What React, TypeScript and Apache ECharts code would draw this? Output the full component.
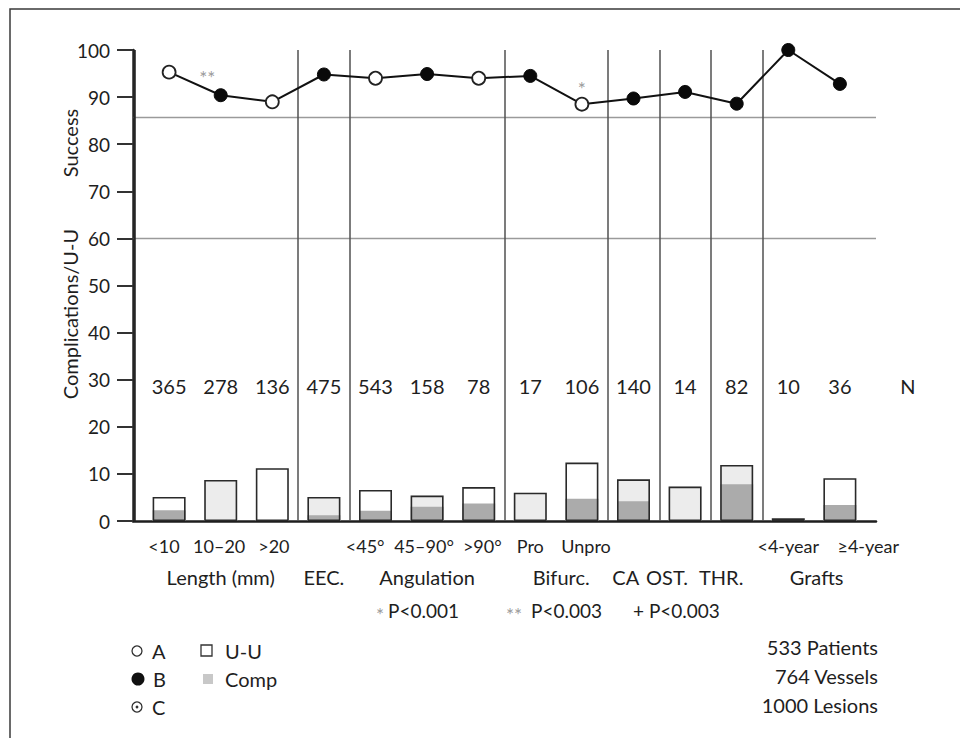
import React, { useEffect, useRef } from "react";
import * as echarts from "echarts";

// ---- data ----
const categories = ["<10", "10–20", ">20", "", "<45°", "45–90°", ">90°", "Pro", "Unpro", "", "", "", "<4-year", "≥4-year"];
const nCounts = [365, 278, 136, 475, 543, 158, 78, 17, 106, 140, 14, 82, 10, 36];
const successRates = [95.3, 90.4, 89.0, 94.8, 94.0, 94.9, 94.0, 94.5, 88.5, 89.7, 91.1, 88.6, 100, 92.8];
const lesionTypes = ["A", "B", "A", "B", "A", "B", "A", "B", "A", "B", "B", "B", "B", "B"];
const uuRates = [5.1, 8.7, 11.2, 5.1, 6.6, 5.4, 7.2, 6.0, 12.4, 8.85, 7.3, 11.9, 0.6, 9.1];
const compRates = [2.3, 0, 0, 1.2, 2.2, 3.0, 3.7, 0, 4.7, 4.2, 0, 7.8, 0, 3.4];
const groupLabels = ["Length (mm)", "EEC.", "Angulation", "Bifurc.", "CA", "OST.", "THR.", "Grafts"];
const groupCenters = [1, 3, 5, 7.6, 8.85, 9.65, 10.7, 12.55];
const groupSeparators = [2.5, 3.5, 6.5, 8.5, 9.5, 10.5, 11.5];
const referenceLevels = [85.7, 60];
const significanceMarks: [number, number, string][] = [
  [0.74, 94.2, "**"],
  [8, 91.8, "*"],
];
const totals = ["533 Patients", "764 Vessels", "1000 Lesions"];

// layout / styling helpers (not data)
const X_MIN = -0.7;
const X_MAX = 13.7;
const categoryLabelPos = [-0.1, 0.97, 2.03, 3, 3.8, 4.94, 6.07, 7.0, 8.08, 9, 10, 11, 12.0, 13.55];
const shadedBars = [1, 3, 5, 7, 9, 10, 11];
const FONT = "Lato, 'Open Sans', sans-serif";
const INK = "#1e1e1e";
const AXIS_INK = "#242424";

export default function App() {
  const ref = useRef<HTMLDivElement>(null);

  useEffect(() => {
    if (!ref.current) return;
    const chart = echarts.init(ref.current, undefined, { renderer: "svg" });

    const xBase = { type: "value" as const, min: X_MIN, max: X_MAX, gridIndex: 0, splitLine: { show: false } };
    const labelledPos = categoryLabelPos.filter((_, i) => categories[i] !== "");

    const txt = (x: number, y: number, text: string, opts: any = {}) => ({
      type: "text",
      x,
      y,
      silent: true,
      style: {
        text,
        fontSize: opts.fontSize ?? 20,
        fontFamily: FONT,
        fill: opts.fill ?? INK,
        align: opts.align ?? "left",
        textAlign: opts.align ?? "left",
        verticalAlign: "middle",
        textVerticalAlign: "middle",
      },
      rotation: opts.rotation ?? 0,
    });

    const option: any = {
      animation: false,
      grid: { left: 133, right: 84, top: 50, bottom: 217, containLabel: false },
      xAxis: [
        {
          ...xBase,
          position: "bottom",
          axisLine: { show: true, onZero: false, lineStyle: { color: INK, width: 2.5 } },
          axisTick: { show: false },
          axisLabel: {
            customValues: labelledPos,
            hideOverlap: false,
            showMinLabel: true,
            showMaxLabel: true,
            formatter: (v: number) => {
              const k = categoryLabelPos.findIndex((c) => Math.abs(c - v) < 1e-6);
              return k >= 0 ? categories[k] : "";
            },
            fontSize: 18,
            fontFamily: FONT,
            color: INK,
            margin: 16,
          },
        },
        {
          ...xBase,
          position: "bottom",
          axisLine: { show: false, onZero: false },
          axisTick: { show: false },
          axisLabel: {
            customValues: groupCenters,
            hideOverlap: false,
            formatter: (v: number) => {
              const k = groupCenters.findIndex((c) => Math.abs(c - v) < 1e-6);
              return k >= 0 ? groupLabels[k] : "";
            },
            fontSize: 20,
            fontFamily: FONT,
            color: INK,
            margin: 46,
          },
        },
      ],
      yAxis: {
        type: "value",
        min: 0,
        max: 100,
        interval: 10,
        axisLine: { show: true, onZero: false, lineStyle: { color: AXIS_INK, width: 2.5 } },
        axisTick: { show: true, length: 16, lineStyle: { color: "#333", width: 2 } },
        axisLabel: { fontSize: 19, fontFamily: FONT, color: INK, margin: 23 },
        splitLine: { show: false },
      },
      series: [
        {
          name: "U-U fill",
          type: "bar",
          xAxisIndex: 0,
          barWidth: 33,
          barGap: "-100%",
          data: uuRates.map((v, i) => ({
            value: [i, v],
            itemStyle: { color: shadedBars.includes(i) ? "#ececec" : "#ffffff" },
          })),
          markLine: {
            silent: true,
            symbol: ["none", "none"],
            label: { show: false },
            lineStyle: { color: "#9a9a9a", width: 1.3, type: "solid" },
            data: referenceLevels.map((y) => ({ yAxis: y })),
          },
        },
        {
          name: "Comp",
          type: "bar",
          xAxisIndex: 0,
          barWidth: 33,
          barGap: "-100%",
          itemStyle: { color: "#ababab" },
          data: compRates.map((v, i) => [i, v]).filter((d) => d[1] > 0),
        },
        {
          name: "U-U",
          type: "bar",
          xAxisIndex: 0,
          barWidth: 33,
          barGap: "-100%",
          itemStyle: { color: "rgba(0,0,0,0)", borderColor: "#2a2a2a", borderWidth: 1.6 },
          data: uuRates.map((v, i) => [i, v]),
          markLine: {
            silent: true,
            symbol: ["none", "none"],
            label: { show: false },
            lineStyle: { color: "#505050", width: 1.5, type: "solid" },
            data: [
              ...groupSeparators.map((x) => ({ xAxis: x })),
              { xAxis: X_MIN + 0.02, lineStyle: { color: "#262626", width: 2.6, type: "solid" } },
            ],
          },
        },
        {
          name: "Success",
          type: "line",
          xAxisIndex: 0,
          clip: false,
          symbol: "circle",
          symbolSize: 13,
          lineStyle: { color: "#111", width: 2 },
          data: successRates.map((v, i) => ({
            value: [i, v],
            itemStyle:
              lesionTypes[i] === "A"
                ? { color: "#ffffff", borderColor: "#222", borderWidth: 1.8 }
                : { color: "#0a0a0a", borderColor: "#0a0a0a", borderWidth: 1 },
          })),
          z: 5,
        },
        {
          name: "N",
          type: "scatter",
          xAxisIndex: 0,
          symbolSize: 0,
          silent: true,
          itemStyle: { opacity: 1 },
          data: nCounts.map((n, i) => [i, 28.7, n]),
          label: {
            show: true,
            position: "inside",
            formatter: (p: any) => String(p.data[2]),
            fontSize: 20,
            fontFamily: FONT,
            color: INK,
          },
        },
        {
          name: "sig",
          type: "scatter",
          xAxisIndex: 0,
          symbolSize: 0,
          silent: true,
          clip: false,
          itemStyle: { opacity: 1 },
          data: significanceMarks,
          label: {
            show: true,
            position: "inside",
            formatter: (p: any) => p.data[2],
            fontSize: 19,
            fontFamily: FONT,
            color: "#9a9a9a",
          },
        },
      ],
      graphic: [
        {
          type: "polyline",
          silent: true,
          shape: { points: [[10, 760], [10, 9], [970, 9]] },
          style: { fill: "none", stroke: "#3a3a3a", lineWidth: 1.5 },
        },
        txt(70, 143, "Success", { rotation: Math.PI / 2, align: "center" }),
        txt(70, 314, "Complications/U-U", { rotation: Math.PI / 2, align: "center" }),
        txt(908, 386, "N", { align: "center" }),
        // significance key
        txt(376, 614, "*", { fill: "#9a9a9a", fontSize: 19 }),
        txt(388, 610, "P<0.001", { fontSize: 19 }),
        txt(506, 614, "**", { fill: "#9a9a9a", fontSize: 19 }),
        txt(531, 610, "P<0.003", { fontSize: 19 }),
        txt(633, 610, "+ P<0.003", { fontSize: 19 }),
        // legend
        { type: "circle", silent: true, shape: { cx: 137, cy: 651, r: 5 }, style: { fill: "#fff", stroke: "#333", lineWidth: 1.3 } },
        txt(152, 651, "A"),
        { type: "rect", silent: true, shape: { x: 201, y: 645, width: 11, height: 11 }, style: { fill: "#fff", stroke: "#333", lineWidth: 1.3 } },
        txt(225, 651, "U-U"),
        { type: "circle", silent: true, shape: { cx: 138, cy: 679, r: 6.5 }, style: { fill: "#111" } },
        txt(153, 679, "B"),
        { type: "rect", silent: true, shape: { x: 203, y: 674, width: 10, height: 10 }, style: { fill: "#c8c8c8" } },
        txt(225, 679, "Comp"),
        { type: "circle", silent: true, shape: { cx: 137, cy: 707, r: 5 }, style: { fill: "#fff", stroke: "#333", lineWidth: 1.3 } },
        { type: "circle", silent: true, shape: { cx: 137, cy: 707, r: 1.4 }, style: { fill: "#333" } },
        txt(152, 707, "C"),
        // totals
        ...totals.map((t, k) => txt(878, 647 + k * 29, t, { align: "right" })),
      ],
    };

    chart.setOption(option);
    return () => chart.dispose();
  }, []);

  return (
    <div
      ref={ref}
      style={{ position: "fixed", left: 0, top: 0, width: 960, height: 738, background: "#fff" }}
    />
  );
}
